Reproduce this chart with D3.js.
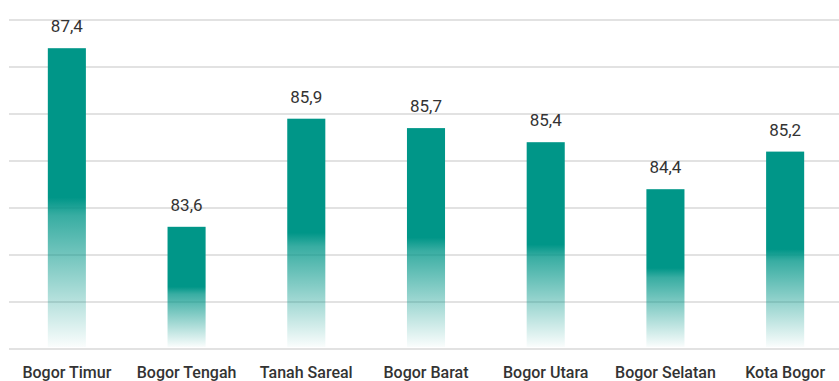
<!DOCTYPE html>
<html>
<head>
<meta charset="utf-8">
<script src="https://cdn.jsdelivr.net/npm/d3@7"></script>
<style>
  body { margin: 0; background: #fff; }
  svg { display: block; font-family: Roboto, "DejaVu Sans", sans-serif; }
</style>
</head>
<body>
<svg width="839" height="381"></svg>
<script>
var categories = ["Bogor Timur", "Bogor Tengah", "Tanah Sareal", "Bogor Barat", "Bogor Utara", "Bogor Selatan", "Kota Bogor"];
var values = [87.4, 83.6, 85.9, 85.7, 85.4, 84.4, 85.2];
var gridTicks = [81, 82, 83, 84, 85, 86, 87, 88];

var svg = d3.select("svg"),
    width = +svg.attr("width"),
    height = +svg.attr("height");

var x = d3.scaleBand()
    .domain(categories)
    .range([7, 845])
    .paddingInner(0.682)
    .paddingOuter(0.341);

var y = d3.scaleLinear()
    .domain([81, 88])
    .range([349, 20]);

// gradient: solid on top half, fading out toward the bottom
var grad = svg.append("defs").append("linearGradient")
    .attr("id", "barFade")
    .attr("x1", 0).attr("y1", 0)
    .attr("x2", 0).attr("y2", 1);
grad.append("stop").attr("offset", "0%").attr("stop-color", "#009688").attr("stop-opacity", 1);
grad.append("stop").attr("offset", "50%").attr("stop-color", "#009688").attr("stop-opacity", 1);
grad.append("stop").attr("offset", "56%").attr("stop-color", "#009688").attr("stop-opacity", 0.78);
grad.append("stop").attr("offset", "100%").attr("stop-color", "#009688").attr("stop-opacity", 0.02);

svg.append("g")
    .attr("class", "grid")
    .selectAll("line")
    .data(gridTicks)
    .enter().append("line")
    .attr("x1", 9)
    .attr("x2", width)
    .attr("y1", function (d) { return y(d); })
    .attr("y2", function (d) { return y(d); })
    .attr("stroke", "#e2e2e2")
    .attr("stroke-width", 2);

svg.append("g")
    .attr("class", "bars")
    .selectAll("rect")
    .data(values)
    .enter().append("rect")
    .attr("x", function (d, i) { return x(categories[i]); })
    .attr("y", function (d) { return y(d); })
    .attr("width", x.bandwidth())
    .attr("height", function (d) { return y(81) - 2 - y(d); })
    .attr("fill", "url(#barFade)");

svg.append("g")
    .attr("class", "values")
    .selectAll("text")
    .data(values)
    .enter().append("text")
    .attr("x", function (d, i) { return x(categories[i]) + x.bandwidth() / 2; })
    .attr("y", function (d) { return y(d) - 16; })
    .attr("text-anchor", "middle")
    .attr("font-size", 17)
    .attr("fill", "#333")
    .text(function (d) { return d3.format(".1f")(d).replace(".", ","); });

svg.append("g")
    .attr("class", "cats")
    .selectAll("text")
    .data(categories)
    .enter().append("text")
    .attr("x", function (d) { return x(d) + x.bandwidth() / 2; })
    .attr("y", 378)
    .attr("text-anchor", "middle")
    .attr("font-size", 16)
    .attr("font-weight", 500)
    .attr("fill", "#333")
    .text(function (d) { return d; });
</script>
</body>
</html>
